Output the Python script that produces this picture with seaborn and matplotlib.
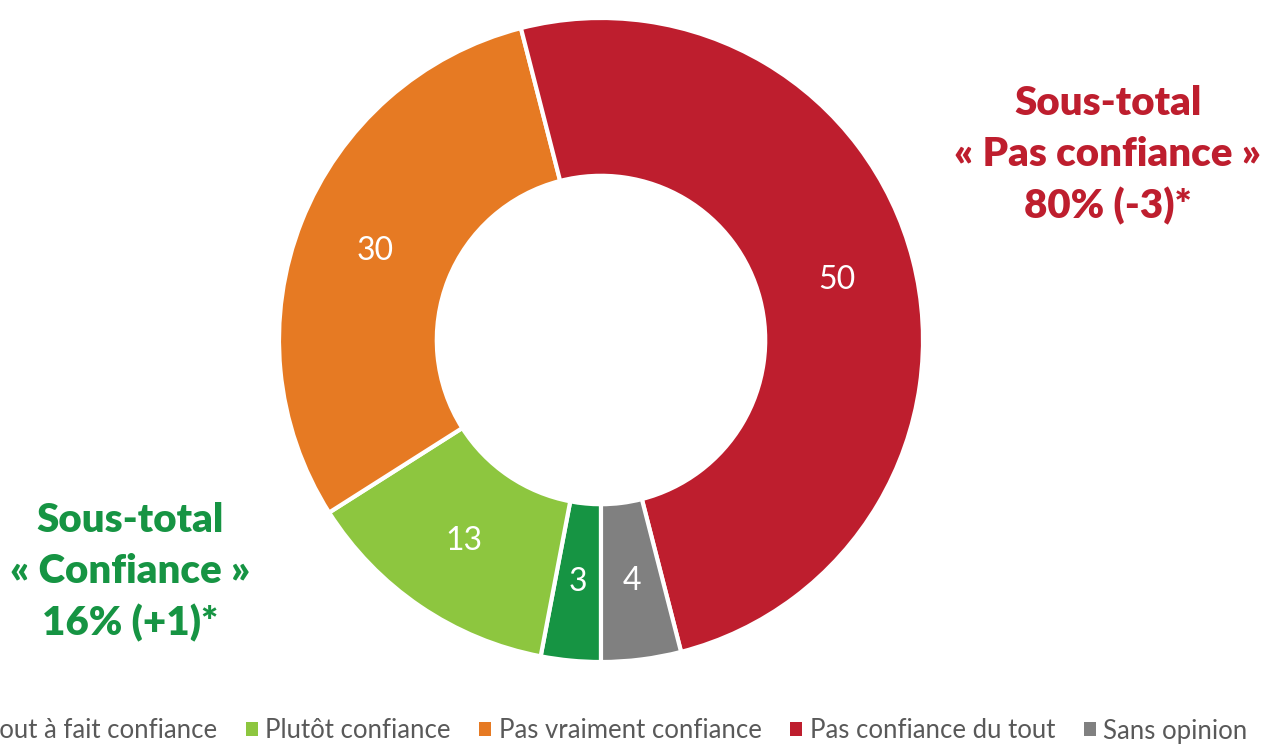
import matplotlib
matplotlib.use("Agg")
import matplotlib.pyplot as plt
import seaborn as sns
from matplotlib.patches import Patch

# Data
categories = ["Tout à fait confiance", "Plutôt confiance", "Pas vraiment confiance",
              "Pas confiance du tout", "Sans opinion"]
values = [3, 13, 30, 50, 4]
colors = ["#169443", "#8dc63f", "#e67a23", "#be1e2e", "#808080"]

sns.set_theme(style="white")
plt.rcParams["font.family"] = ["Lato", "DejaVu Sans"]

fig = plt.figure(figsize=(12.64, 7.44), dpi=100)
W, H = 1264, 744
cx, cy, r = 601, 744 - 340, 322
ax = fig.add_axes([(cx - r) / W, (cy - r) / H, 2 * r / W, 2 * r / H])

wedges, _, autotexts = ax.pie(
    values, colors=colors, startangle=-90, counterclock=False, radius=1,
    wedgeprops=dict(width=0.49, edgecolor="white", linewidth=3),
    autopct=lambda p: f"{p:.0f}", pctdistance=0.755,
    textprops=dict(color="white", fontsize=23))
ax.set_xlim(-1, 1)
ax.set_ylim(-1, 1)
ax.set_aspect("equal")
ax.axis("off")

# Sub-total annotations
fig.text(1108 / W, 1 - 155 / H, "Sous-total\n« Pas confiance »\n80% (-3)*",
         ha="center", va="center", color="#be1e2e", fontsize=29,
         fontweight="heavy", linespacing=1.45)
fig.text(130 / W, 1 - 572 / H, "Sous-total\n« Confiance »\n16% (+1)*",
         ha="center", va="center", color="#169443", fontsize=29,
         fontweight="heavy", linespacing=1.45)

# Legend
handles = [Patch(facecolor=c, edgecolor="none") for c in colors]
leg = fig.legend(handles, categories, loc="center", ncol=5, frameon=False,
                 bbox_to_anchor=(606 / W, 1 - 731 / H), fontsize=18.5,
                 handlelength=0.47, handleheight=0.47, handletextpad=0.3,
                 columnspacing=1.1)
for t in leg.get_texts():
    t.set_color("#595959")

fig.savefig("out.png", dpi=100)
